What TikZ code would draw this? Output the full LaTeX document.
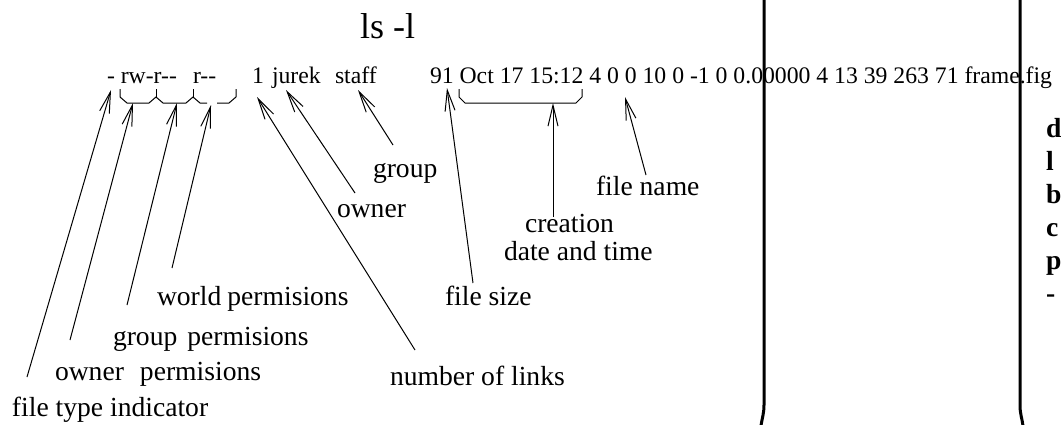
\documentclass[tikz,border=0pt]{standalone}
\usepackage{fontspec}
\setmainfont{Liberation Serif}
\usetikzlibrary{arrows.meta}
\newcommand{\twodash}{-\kern0pt-}

\begin{document}
\begin{tikzpicture}[x=1pt,y=-1pt,inner sep=0pt,outer sep=0pt,line width=1pt,
rowtxt/.style={anchor=base west,font=\fontsize{23.7}{28}\selectfont},
lbl/.style={anchor=base west,font=\fontsize{27.6}{32}\selectfont},
side/.style={anchor=base west,font=\fontsize{27.6}{32}\selectfont\bfseries},
arr/.style={-{Straight Barb[length=21pt,width=10pt]}},
brk/.style={line join=miter},
wall/.style={line width=3pt}]

\useasboundingbox (0,0) rectangle (1061,424);

\draw (360,38) node[anchor=base west,font=\fontsize{36}{40}\selectfont] (title) {ls -l};

% the listed line
\draw (107,83) node[rowtxt] (perm) {- rw-r\twodash};
\draw (193,83) node[rowtxt] (wperm) {r\twodash};
\draw (252,83) node[rowtxt] (links) {1};
\draw (272,83) node[rowtxt] (user) {jurek};
\draw (335,83) node[rowtxt] (grpname) {staff};
\draw (430,83) node[rowtxt] (rest) {91 Oct 17 15:12 4 0 0 10 0 -1 0 0.00000 4 13 39 263 71 frame.fig};

% braces under the fields
\draw[brk] (120,89) -- (120,97) -- (127,103) -- (149,103) -- (156,97) -- (163,103) -- (186,103) -- (193,97) -- (200,103) -- (207,103);
\draw[brk] (156,89) -- (156,97);
\draw[brk] (193,89) -- (193,97);
\draw[brk] (217,103) -- (229,103) -- (236,97) -- (236,89);
\draw[brk] (459,89) -- (459,97) -- (465,103) -- (576,103) -- (582,97) -- (582,89);

% labels
\draw (373,177) node[lbl] (grp) {group};
\draw (337,217) node[lbl] (own) {owner};
\draw (596,195) node[lbl] (fname) {file name};
\draw (525,232) node[lbl] (creat) {creation};
\draw (504,260) node[lbl] (dtime) {date and time};
\draw (157,305) node[lbl] (world) {world\hspace{6pt}permisions};
\draw (445,305) node[lbl] (fsize) {file size};
\draw (113,345) node[lbl] (gperm) {group\hspace{10pt}permisions};
\draw (55,380) node[lbl] (operm) {owner\hspace{16pt}permisions};
\draw (390,385) node[lbl] (nlinks) {number of links};
\draw (12,416) node[lbl] (ftype) {file type indicator};

% arrow ends
\coordinate (ftypetail) at (27,377);   \coordinate (ftypetip) at (111,90);
\coordinate (opermtail) at (70,340);   \coordinate (opermtip) at (133,103);
\coordinate (gpermtail) at (127,305);  \coordinate (gpermtip) at (177,103);
\coordinate (wpermtail) at (172,268);  \coordinate (wpermtip) at (211,105);
\coordinate (linkstail) at (415,350);  \coordinate (linkstip) at (257,97);
\coordinate (owntail) at (355,193);    \coordinate (owntip) at (286,90);
\coordinate (grptail) at (393,145);    \coordinate (grptip) at (358,90);
\coordinate (sizetail) at (473,283);   \coordinate (sizetip) at (447,88);
\coordinate (datetail) at (553,217);   \coordinate (datetip) at (553,103);
\coordinate (nametail) at (646,175);   \coordinate (nametip) at (625,97);

\draw[arr] (ftypetail) -- (ftypetip);
\draw[arr] (opermtail) -- (opermtip);
\draw[arr] (gpermtail) -- (gpermtip);
\draw[arr] (wpermtail) -- (wpermtip);
\draw[arr] (linkstail) -- (linkstip);
\draw[arr] (owntail) -- (owntip);
\draw[arr] (grptail) -- (grptip);
\draw[arr] (sizetail) -- (sizetip);
\draw[arr] (datetail) -- (datetip);
\draw[arr] (nametail) -- (nametip);

% page edges
\draw[wall] (764,-2) -- (764,405) .. controls (764,414) and (762,418) .. (761,426);
\draw[wall] (1020,-2) -- (1020,405) .. controls (1020,414) and (1022,418) .. (1023,426);

% cut off column on the right
\draw (1046,137) node[side] (sd) {d};
\draw (1046,170) node[side] (sl) {l};
\draw (1046,203) node[side] (sb) {b};
\draw (1046,236) node[side] (sc) {c};
\draw (1046,269) node[side] (sp) {p};
\draw (1046,302) node[side] (sm) {-};

\end{tikzpicture}
\end{document}
